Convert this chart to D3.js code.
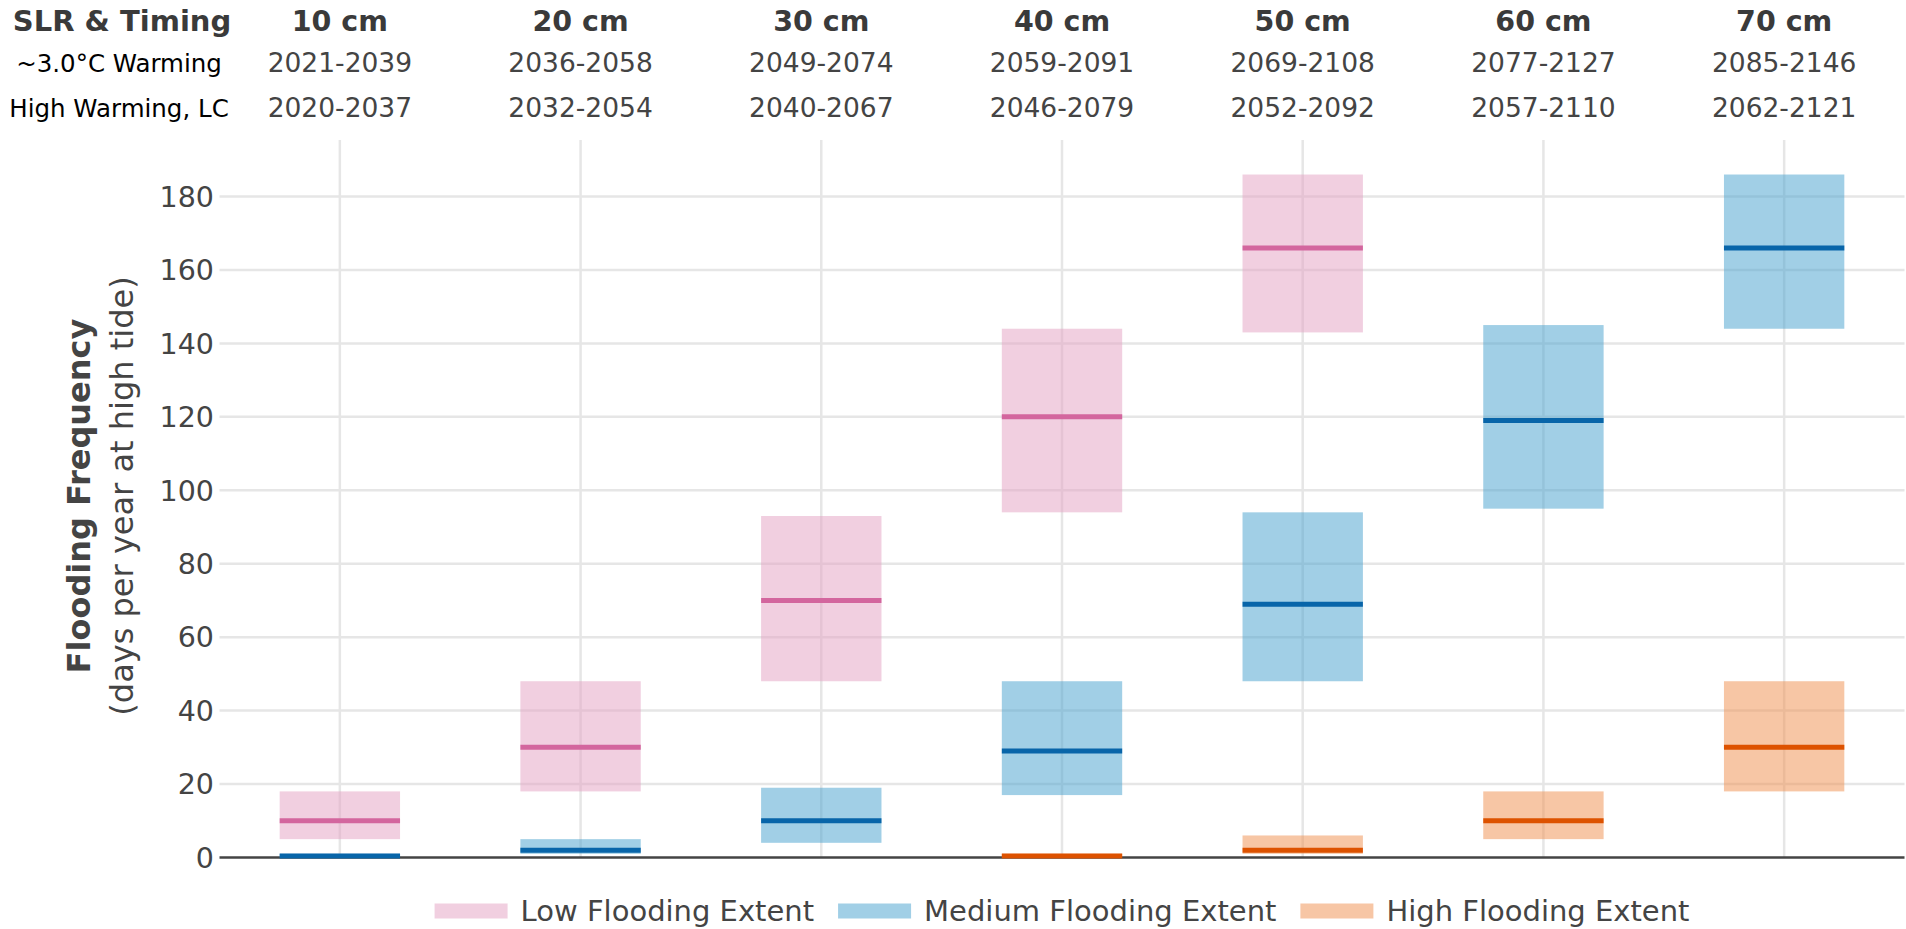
<!DOCTYPE html>
<html>
<head>
<meta charset="utf-8">
<script src="https://cdn.jsdelivr.net/npm/d3@7"></script>
<style>
  body { margin: 0; background: #fff; }
  svg { display: block; }
</style>
</head>
<body>
<svg id="chart" width="1906" height="929"></svg>
<script>
// sea level rise steps and the timing rows above the plot
var categories = ['10 cm', '20 cm', '30 cm', '40 cm', '50 cm', '60 cm', '70 cm'];
var timing30 = ['2021-2039', '2036-2058', '2049-2074', '2059-2091', '2069-2108', '2077-2127', '2085-2146'];
var timingHigh = ['2020-2037', '2032-2054', '2040-2067', '2046-2079', '2052-2092', '2057-2110', '2062-2121'];

// flooding frequency (days per year) - low / median / high of each range
var lowMin = [5, 18, 48, 94, 143, null, null];
var lowMid = [10, 30, 70, 120, 166, null, null];
var lowMax = [18, 48, 93, 144, 186, null, null];

var medMin = [0, 1, 4, 17, 48, 95, 144];
var medMid = [0.4, 2, 10, 29, 69, 119, 166];
var medMax = [1, 5, 19, 48, 94, 145, 186];

var highMin = [null, null, null, 0, 1, 5, 18];
var highMid = [null, null, null, 0.4, 2, 10, 30];
var highMax = [null, null, null, 1, 6, 18, 48];

var yTicks = [0, 20, 40, 60, 80, 100, 120, 140, 160, 180];

var series = [
  { name: 'Low Flooding Extent', lo: lowMin, mid: lowMid, hi: lowMax, fill: '#e39fc1', line: '#d3669e' },
  { name: 'Medium Flooding Extent', lo: medMin, mid: medMid, hi: medMax, fill: '#439fcd', line: '#0865a9' },
  { name: 'High Flooding Extent', lo: highMin, mid: highMid, hi: highMax, fill: '#ef8d4b', line: '#dd5200' }
];

var FONT = 'DejaVu Sans, Verdana, sans-serif';
var svg = d3.select('#chart');
var plotL = 219.5, plotR = 1904.5, plotT = 140, plotB = 857.5;

var x = d3.scaleBand().domain(categories).range([plotL, plotR]).padding(0);
var y = d3.scaleLinear().domain([0, 195.4]).range([plotB, plotT]);
var boxW = x.bandwidth() * 0.5;
function cx(c) { return x(c) + x.bandwidth() / 2; }

// grid
var grid = svg.append('g');
grid.selectAll('line.h')
  .data(yTicks.filter(function(d) { return d > 0; }))
  .enter().append('line')
  .attr('x1', plotL).attr('x2', plotR)
  .attr('y1', function(d) { return y(d); }).attr('y2', function(d) { return y(d); })
  .attr('stroke', '#e6e6e6').attr('stroke-width', 2.5);
grid.selectAll('line.v')
  .data(categories)
  .enter().append('line')
  .attr('x1', cx).attr('x2', cx)
  .attr('y1', plotT).attr('y2', plotB)
  .attr('stroke', '#e6e6e6').attr('stroke-width', 2.5);

// y tick labels
svg.append('g').selectAll('text')
  .data(yTicks)
  .enter().append('text')
  .attr('x', 214)
  .attr('y', function(d) { return y(d); })
  .attr('dy', '0.36em')
  .attr('text-anchor', 'end')
  .attr('font-family', FONT)
  .attr('font-size', 28.5)
  .attr('fill', '#444')
  .text(function(d) { return d; });

// zero line
svg.append('line')
  .attr('x1', plotL).attr('x2', plotR)
  .attr('y1', y(0)).attr('y2', y(0))
  .attr('stroke', '#444').attr('stroke-width', 2.5);

// boxes
series.forEach(function(s) {
  var g = svg.append('g');
  var idx = categories.map(function(c, i) { return i; }).filter(function(i) { return s.mid[i] != null; });
  g.selectAll('rect')
    .data(idx)
    .enter().append('rect')
    .attr('x', function(i) { return cx(categories[i]) - boxW / 2; })
    .attr('width', boxW)
    .attr('y', function(i) { return y(s.hi[i]); })
    .attr('height', function(i) { return y(s.lo[i]) - y(s.hi[i]); })
    .attr('fill', s.fill).attr('fill-opacity', 0.5);
  g.selectAll('line')
    .data(idx)
    .enter().append('line')
    .attr('x1', function(i) { return cx(categories[i]) - boxW / 2; })
    .attr('x2', function(i) { return cx(categories[i]) + boxW / 2; })
    .attr('y1', function(i) { return y(s.mid[i]); })
    .attr('y2', function(i) { return y(s.mid[i]); })
    .attr('stroke', s.line).attr('stroke-width', 5);
});

// header table
var head = svg.append('g').attr('font-family', FONT);
head.append('text').attr('x', 122).attr('y', 31).attr('text-anchor', 'middle')
  .attr('font-size', 29).attr('font-weight', 'bold').attr('fill', '#3a3a3a')
  .text('SLR & Timing');
head.append('text').attr('x', 119).attr('y', 72).attr('text-anchor', 'middle')
  .attr('font-size', 24.5).attr('fill', '#000')
  .text('~3.0\u00b0C Warming');
head.append('text').attr('x', 119).attr('y', 117).attr('text-anchor', 'middle')
  .attr('font-size', 24.5).attr('fill', '#000')
  .text('High Warming, LC');

head.selectAll('text.cat').data(categories).enter().append('text')
  .attr('x', cx).attr('y', 31).attr('text-anchor', 'middle')
  .attr('font-size', 28.5).attr('font-weight', 'bold').attr('fill', '#3a3a3a')
  .text(function(d) { return d; });
head.selectAll('text.t1').data(categories).enter().append('text')
  .attr('x', cx).attr('y', 72).attr('text-anchor', 'middle')
  .attr('font-size', 26.5).attr('fill', '#444')
  .text(function(d, i) { return timing30[i]; });
head.selectAll('text.t2').data(categories).enter().append('text')
  .attr('x', cx).attr('y', 117).attr('text-anchor', 'middle')
  .attr('font-size', 26.5).attr('fill', '#444')
  .text(function(d, i) { return timingHigh[i]; });

// y axis title
var yt = svg.append('text')
  .attr('transform', 'translate(90,496) rotate(-90)')
  .attr('text-anchor', 'middle')
  .attr('font-family', FONT)
  .attr('fill', '#444');
yt.append('tspan').attr('x', 0).attr('y', 0)
  .attr('font-size', 32).attr('font-weight', 'bold')
  .text('Flooding Frequency');
yt.append('tspan').attr('x', 0).attr('y', 43)
  .attr('font-size', 32)
  .text('(days per year at high tide)');

// legend
var leg = svg.append('g');
var lx = 0;
series.forEach(function(s) {
  var it = leg.append('g').attr('transform', 'translate(' + lx + ',0)');
  it.append('rect').attr('x', 0).attr('y', -7.5).attr('width', 73).attr('height', 15)
    .attr('fill', s.fill).attr('fill-opacity', 0.5);
  var t = it.append('text').attr('x', 86).attr('y', 0).attr('dy', '0.36em')
    .attr('font-family', FONT)
    .attr('font-size', 29).attr('fill', '#444')
    .text(s.name);
  lx += 86 + t.node().getComputedTextLength() + 24;
});
var legW = lx - 24;
leg.attr('transform', 'translate(' + ((plotL + plotR) / 2 - legW / 2) + ',911)');
</script>
</body>
</html>
